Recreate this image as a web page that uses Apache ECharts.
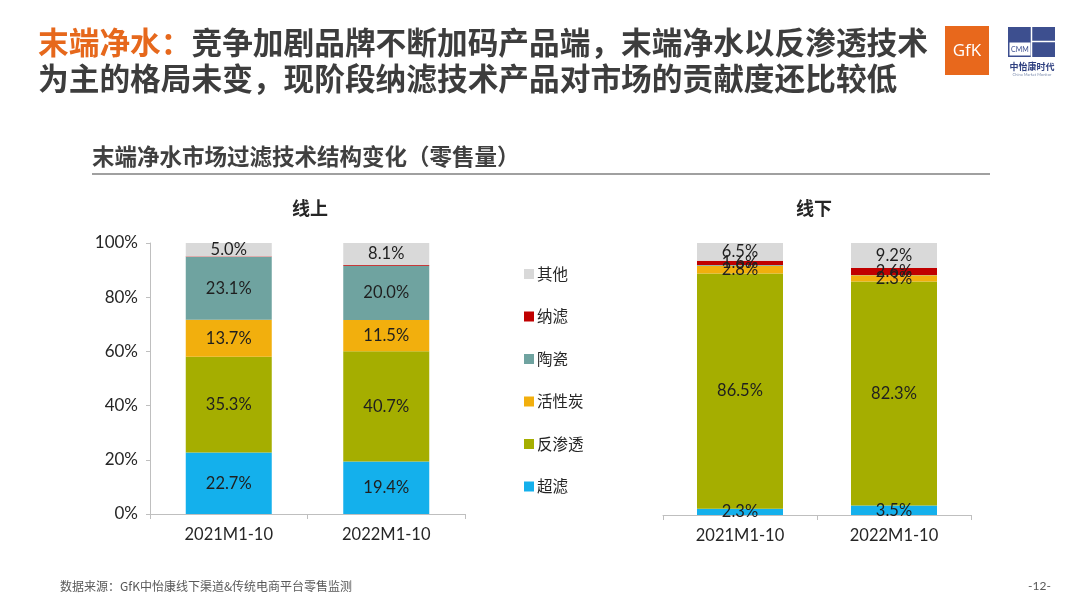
<!DOCTYPE html>
<html>
<head>
<meta charset="utf-8">
<script src="https://cdn.jsdelivr.net/npm/echarts@6/dist/echarts.min.js"></script>
<style>
html,body{margin:0;padding:0;background:#fff;}
#c{width:1080px;height:608px;}
</style>
</head>
<body>
<div id="c"></div>
<script>
// ---- data ----
var categories = ['2021M1-10', '2022M1-10'];
var seriesNames = ['超滤', '反渗透', '活性炭', '陶瓷', '纳滤', '其他'];
var onlineUltra = [22.7, 19.4];
var onlineRO = [35.3, 40.7];
var onlineCarbon = [13.7, 11.5];
var onlineCeramic = [23.1, 20.0];
var onlineNano = [0.2, 0.3];
var onlineOther = [5.0, 8.1];
var offlineUltra = [2.3, 3.5];
var offlineRO = [86.5, 82.3];
var offlineCarbon = [2.8, 2.3];
var offlineCeramic = [0.3, 0.1];
var offlineNano = [1.6, 2.6];
var offlineOther = [6.5, 9.2];
var yTicks = [0, 20, 40, 60, 80, 100];
var legendOrder = ['其他', '纳滤', '陶瓷', '活性炭', '反渗透', '超滤'];

var onlineData = [onlineUltra, onlineRO, onlineCarbon, onlineCeramic, onlineNano, onlineOther];
var offlineData = [offlineUltra, offlineRO, offlineCarbon, offlineCeramic, offlineNano, offlineOther];
var colors = ['#14b0ec', '#a5ae00', '#f2af0d', '#6fa3a0', '#c00000', '#d9d9d9'];
var hideOnline = {'纳滤': true};
var hideOffline = {'陶瓷': true};

var FONT = 'Lato, "Noto Sans CJK SC", sans-serif';
var CJK = '"Noto Sans CJK SC", sans-serif';

var chart = echarts.init(document.getElementById('c'));

var series = [];
function addSeries(dataArr, idx, hide) {
  seriesNames.forEach(function (n, i) {
    series.push({
      name: n,
      type: 'bar',
      stack: 's' + idx,
      xAxisIndex: idx,
      yAxisIndex: idx,
      barWidth: 86,
      data: dataArr[i],
      itemStyle: { color: colors[i] },
      label: {
        show: !hide[n],
        position: 'inside',
        fontFamily: FONT,
        fontSize: 16.5,
        color: '#1f1f1f',
        formatter: function (p) { return p.value.toFixed(1) + '%'; }
      },
      emphasis: { disabled: true }
    });
  });
}
addSeries(onlineData, 0, hideOnline);
addSeries(offlineData, 1, hideOffline);

var axisCommon = {
  type: 'category',
  data: categories,
  axisLine: { show: true, lineStyle: { color: '#bfbfbf', width: 1 } },
  axisTick: { show: true, length: 5, lineStyle: { color: '#bfbfbf' } },
  axisLabel: { fontFamily: FONT, fontSize: 16.5, color: '#262626', margin: 12 }
};

chart.setOption({
  animation: false,
  color: colors,
  grid: [
    { left: 150, top: 243, width: 315, height: 271 },
    { left: 663, top: 243, width: 308, height: 272 }
  ],
  xAxis: [
    Object.assign({ gridIndex: 0 }, axisCommon),
    Object.assign({ gridIndex: 1 }, axisCommon)
  ],
  yAxis: [
    {
      type: 'value', gridIndex: 0, min: 0, max: 100, interval: 20,
      splitLine: { show: false },
      axisLine: { show: true, lineStyle: { color: '#bfbfbf' } },
      axisTick: { show: true, length: 4, lineStyle: { color: '#bfbfbf' } },
      axisLabel: { fontFamily: FONT, fontSize: 17, color: '#262626', margin: 12,
        formatter: function (v) { return yTicks.indexOf(v) >= 0 ? v + '%' : ''; } }
    },
    {
      type: 'value', gridIndex: 1, min: 0, max: 100, show: false,
      splitLine: { show: false }
    }
  ],
  legend: {
    data: legendOrder,
    orient: 'vertical',
    left: 519,
    top: 261,
    icon: 'rect',
    itemWidth: 10,
    itemHeight: 10,
    itemGap: 26.5,
    selectedMode: false,
    textStyle: { fontFamily: CJK, fontSize: 15.5, color: '#262626', lineHeight: 16, padding: [0, 0, 0, -2] }
  },
  series: series,
  graphic: [
    {
      type: 'text', left: 38, top: 27,
      style: {
        text: '{o|末端净水：}{d|竞争加剧品牌不断加码产品端，末端净水以反渗透技术}\n{d|为主的格局未变，现阶段纳滤技术产品对市场的贡献度还比较低}',
        rich: {
          o: { fontFamily: CJK, fontSize: 30.7, fontWeight: 'bold', fill: '#e6681c', lineHeight: 36 },
          d: { fontFamily: CJK, fontSize: 30.7, fontWeight: 'bold', fill: '#3d3d3d', lineHeight: 36 }
        }
      }
    },
    {
      type: 'text', left: 92, top: 145,
      style: { text: '末端净水市场过滤技术结构变化（零售量）', fontFamily: CJK, fontSize: 22.5, fontWeight: 'bold', fill: '#404040' }
    },
    {
      type: 'line', shape: { x1: 92, y1: 174, x2: 990, y2: 174 },
      style: { stroke: '#808080', lineWidth: 1.5 }
    },
    {
      type: 'text', x: 310, y: 208,
      style: { text: '线上', fontFamily: CJK, fontSize: 18, fontWeight: 'bold', fill: '#262626', align: 'center', verticalAlign: 'middle' }
    },
    {
      type: 'text', x: 814, y: 208,
      style: { text: '线下', fontFamily: CJK, fontSize: 18, fontWeight: 'bold', fill: '#262626', align: 'center', verticalAlign: 'middle' }
    },
    {
      type: 'text', left: 60, top: 580,
      style: { text: '数据来源：GfK中怡康线下渠道&传统电商平台零售监测', fontFamily: CJK, fontSize: 12, fill: '#595959' }
    },
    {
      type: 'text', left: 1028, top: 580,
      style: { text: '-12-', fontFamily: FONT, fontSize: 12, fill: '#595959' }
    },
    // GfK logo
    { type: 'rect', shape: { x: 945, y: 26, width: 44, height: 49 }, style: { fill: '#e8681c' } },
    { type: 'text', x: 967, y: 51, style: { text: 'GfK', fontFamily: 'Open Sans, sans-serif', fontSize: 17, fill: '#ffffff', align: 'center', verticalAlign: 'middle' } },
    // CMM logo
    { type: 'rect', shape: { x: 1008, y: 27, width: 47, height: 30 }, style: { fill: '#3d4f8f' } },
    { type: 'rect', shape: { x: 1009, y: 42, width: 22, height: 14 }, style: { fill: '#ffffff', stroke: '#3d4f8f', lineWidth: 1 } },
    { type: 'line', shape: { x1: 1031.5, y1: 27, x2: 1031.5, y2: 57 }, style: { stroke: '#ffffff', lineWidth: 1.5 } },
    { type: 'line', shape: { x1: 1031, y1: 41.5, x2: 1055, y2: 41.5 }, style: { stroke: '#ffffff', lineWidth: 1.5 } },
    { type: 'text', x: 1011, y: 50, style: { text: 'CMM', fontFamily: FONT, fontSize: 7, fill: '#3d4f8f', verticalAlign: 'middle' } },
    { type: 'text', x: 1032, y: 67, style: { text: '中怡康时代', fontFamily: CJK, fontSize: 9, fontWeight: 'bold', fill: '#2e3f7f', align: 'center', verticalAlign: 'middle' } },
    { type: 'text', x: 1032, y: 75, style: { text: 'China Market Monitor', fontFamily: FONT, fontSize: 4, fill: '#8090b0', align: 'center', verticalAlign: 'middle' } }
  ]
});
</script>
</body>
</html>
